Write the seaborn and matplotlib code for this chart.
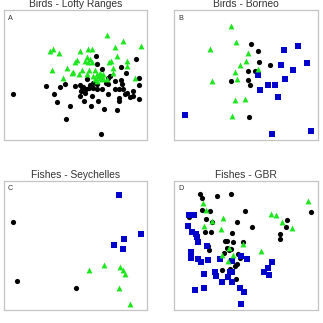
import numpy as np
import pandas as pd
import matplotlib
matplotlib.use("Agg")
import matplotlib.pyplot as plt
import seaborn as sns

sns.set_theme(style="white")
plt.rcParams["font.family"] = ["Liberation Sans", "DejaVu Sans"]

# Panel titles and letters
titles = ["Birds - Lofty Ranges", "Birds - Borneo", "Fishes - Seychelles", "Fishes - GBR"]
letters = ["A", "B", "C", "D"]

# Ordination scores (0-100 scale, no axes shown)
a_black_x = [6.5, 29.1, 35.0, 38.9, 42.4, 36.6, 45.9, 43.1, 67.8, 49.7, 52.9, 54.1, 55.2, 53.4,
             56.4, 59.0, 59.9, 57.1, 61.1, 55.7, 60.6, 65.3, 69.5, 78.6, 80.4, 80.4, 72.7, 72.7,
             71.1, 77.4, 81.4, 82.1, 83.2, 80.4, 84.4, 86.0, 87.9, 90.2, 93.9, 93.9, 94.2, 85.1,
             81.4, 91.8, 64.3, 64.6, 68.1, 72.3, 73.9, 62.2, 64.6, 68.1, 64.6, 57.6, 62.2, 52.9,
             77.4, 89.7]
a_black_y = [35.5, 41.5, 35.5, 40.9, 42.7, 29.5, 26.4, 16.1, 4.7, 41.5, 42.0, 38.9, 40.9, 37.6,
             36.3, 40.2, 42.2, 39.4, 33.7, 29.8, 26.4, 29.8, 24.1, 23.3, 30.3, 32.4, 35.5, 42.7,
             44.0, 45.3, 45.9, 42.7, 38.9, 38.9, 35.0, 36.3, 33.2, 37.6, 31.6, 42.0, 47.9, 51.8,
             56.2, 62.2, 64.2, 58.3, 54.4, 47.4, 49.2, 40.2, 38.9, 38.9, 42.7, 46.6, 44.0, 33.7,
             38.9, 33.7]
a_green_x = [72.0, 83.0, 95.8, 77.6, 31.9, 34.3, 38.2, 52.9, 58.7, 61.5, 58.0, 59.9, 51.0, 49.7,
             56.4, 58.7, 61.1, 79.0, 73.2, 74.6, 85.8, 85.5, 76.2, 43.6, 48.3, 54.5, 59.2, 52.2,
             47.1, 33.1, 40.8, 58.0, 63.4, 64.6, 65.7, 66.9, 63.4, 68.1, 69.2, 71.6, 76.2, 91.6,
             66.9, 62.2, 65.0, 69.2, 66.4]
a_green_y = [81.1, 75.9, 72.5, 71.8, 68.1, 69.7, 66.6, 68.4, 69.9, 69.9, 63.5, 62.2, 61.7, 59.6,
             60.9, 59.6, 60.1, 64.8, 59.6, 60.9, 60.4, 57.0, 55.7, 55.7, 52.3, 53.6, 53.9, 50.5,
             51.3, 53.9, 47.9, 50.5, 53.6, 50.5, 49.2, 47.9, 46.6, 46.6, 50.5, 46.6, 51.3, 47.4,
             51.8, 49.2, 45.3, 47.9, 49.7]

b_black_x = [53.8, 58.7, 59.0, 67.1, 56.4, 51.7, 39.6, 51.3, 53.1, 52.2]
b_black_y = [73.7, 68.1, 59.9, 57.4, 52.8, 52.8, 45.2, 45.9, 42.1, 17.3]
b_green_x = [39.2, 42.9, 24.7, 51.5, 50.3, 45.5, 58.5, 42.2, 43.8, 26.3, 42.0, 49.4, 40.3]
b_green_y = [87.5, 75.3, 70.2, 66.6, 60.5, 57.4, 54.8, 52.6, 46.7, 45.4, 30.4, 31.1, 18.1]
b_blue_x = [86.2, 76.9, 92.5, 74.4, 82.8, 58.5, 77.2, 65.3, 70.2, 59.7, 72.7, 7.2, 68.3, 95.6]
b_blue_y = [72.4, 68.9, 59.2, 57.4, 54.1, 49.7, 46.9, 42.6, 42.6, 38.3, 33.2, 18.9, 4.6, 6.6]

c_black_x = [6.5, 8.9, 50.3]
c_black_y = [67.8, 22.3, 16.9]
c_green_x = [59.4, 69.9, 80.9, 82.8, 84.6, 80.0, 87.9]
c_green_y = [30.9, 34.5, 33.5, 31.2, 27.5, 16.9, 4.9]
c_blue_x = [80.4, 95.8, 83.9, 76.5, 83.0]
c_blue_y = [88.6, 59.0, 54.5, 49.9, 46.8]

d_black_x = [18.2, 19.3, 29.6, 39.4, 10.3, 19.3, 25.2, 49.2, 22.4, 26.6, 43.4, 54.3, 21.4, 25.9,
             39.9, 35.0, 36.8, 40.8, 48.0, 24.0, 36.4, 37.8, 39.2, 34.5, 44.3, 45.5, 43.8, 42.4,
             38.5, 33.6, 43.1, 95.6, 78.6, 78.3, 74.1, 73.9, 23.3]
d_black_y = [90.0, 86.4, 88.2, 90.0, 71.9, 77.2, 76.7, 76.2, 70.1, 68.0, 68.0, 64.5, 60.4, 60.6,
             59.3, 53.2, 53.5, 52.7, 52.2, 46.3, 48.1, 46.3, 47.1, 44.0, 43.0, 39.9, 35.8, 33.8,
             31.5, 30.9, 23.8, 75.4, 69.8, 64.2, 58.8, 55.0, 49.4]
d_green_x = [20.3, 22.4, 26.6, 34.0, 21.0, 32.6, 38.2, 48.0, 33.1, 41.0, 37.3, 60.4, 67.8, 71.1,
             75.5, 82.5, 93.5]
d_green_y = [82.6, 77.5, 68.5, 70.8, 65.2, 62.7, 48.1, 51.2, 42.7, 42.2, 38.1, 45.8, 73.9, 73.4,
             67.8, 63.2, 84.1]
d_blue_x = [10.3, 13.5, 9.6, 12.1, 14.9, 15.9, 16.6, 23.1, 11.9, 11.4, 16.3, 18.4, 23.3, 31.9,
            46.6, 51.0, 40.1, 68.5, 65.3, 62.7, 66.0, 28.2, 29.1, 38.5, 40.3, 37.3, 21.0, 33.1,
            40.1, 14.7, 20.7, 45.5, 48.3, 46.2]
d_blue_y = [73.4, 73.1, 65.0, 60.4, 58.6, 56.8, 52.7, 49.6, 44.8, 39.9, 39.6, 37.3, 38.4, 39.4,
            41.9, 39.4, 37.9, 36.8, 32.5, 29.7, 27.1, 29.4, 26.1, 29.7, 29.7, 25.3, 27.6, 21.5,
            21.5, 15.3, 17.1, 16.9, 13.8, 4.6]


def make_df(groups):
    frames = []
    for name, xs, ys in groups:
        frames.append(pd.DataFrame({"x": xs, "y": ys, "group": name}))
    return pd.concat(frames, ignore_index=True)


panels = [
    make_df([("black", a_black_x, a_black_y), ("green", a_green_x, a_green_y)]),
    make_df([("black", b_black_x, b_black_y), ("blue", b_blue_x, b_blue_y), ("green", b_green_x, b_green_y)]),
    make_df([("black", c_black_x, c_black_y), ("blue", c_blue_x, c_blue_y), ("green", c_green_x, c_green_y)]),
    make_df([("black", d_black_x, d_black_y), ("blue", d_blue_x, d_blue_y), ("green", d_green_x, d_green_y)]),
]

palette = {"black": "#000000", "green": "#1ee61e", "blue": "#0000cc"}
markers = {"black": "o", "green": "^", "blue": "s"}
sizes = {"black": 14, "green": 18, "blue": 13}

# axes boxes in figure fraction
boxes = [
    [0.013, 0.567, 0.443, 0.402],
    [0.540, 0.567, 0.443, 0.402],
    [0.013, 0.040, 0.443, 0.401],
    [0.540, 0.040, 0.443, 0.401],
]

fig = plt.figure(figsize=(3.23, 3.23), dpi=100)

for df, box, title, letter in zip(panels, boxes, titles, letters):
    ax = fig.add_axes(box)
    for grp in df["group"].unique():
        sub = df[df["group"] == grp]
        sns.scatterplot(
            data=sub, x="x", y="y",
            color=palette[grp], marker=markers[grp], s=sizes[grp],
            linewidth=0, ax=ax, legend=False,
        )
    ax.set_xlim(0, 100)
    ax.set_ylim(0, 100)
    ax.set_xticks([])
    ax.set_yticks([])
    ax.set_xlabel("")
    ax.set_ylabel("")
    for sp in ax.spines.values():
        sp.set_color("#c4c4c4")
        sp.set_linewidth(0.9)
    ax.set_title(title, fontsize=7.4, color="#333333", pad=2.2)
    ax.text(0.025, 0.965, letter, transform=ax.transAxes, ha="left", va="top",
            fontsize=5.2, color="#333333")

fig.savefig("out.png", dpi=100)
plt.close(fig)
